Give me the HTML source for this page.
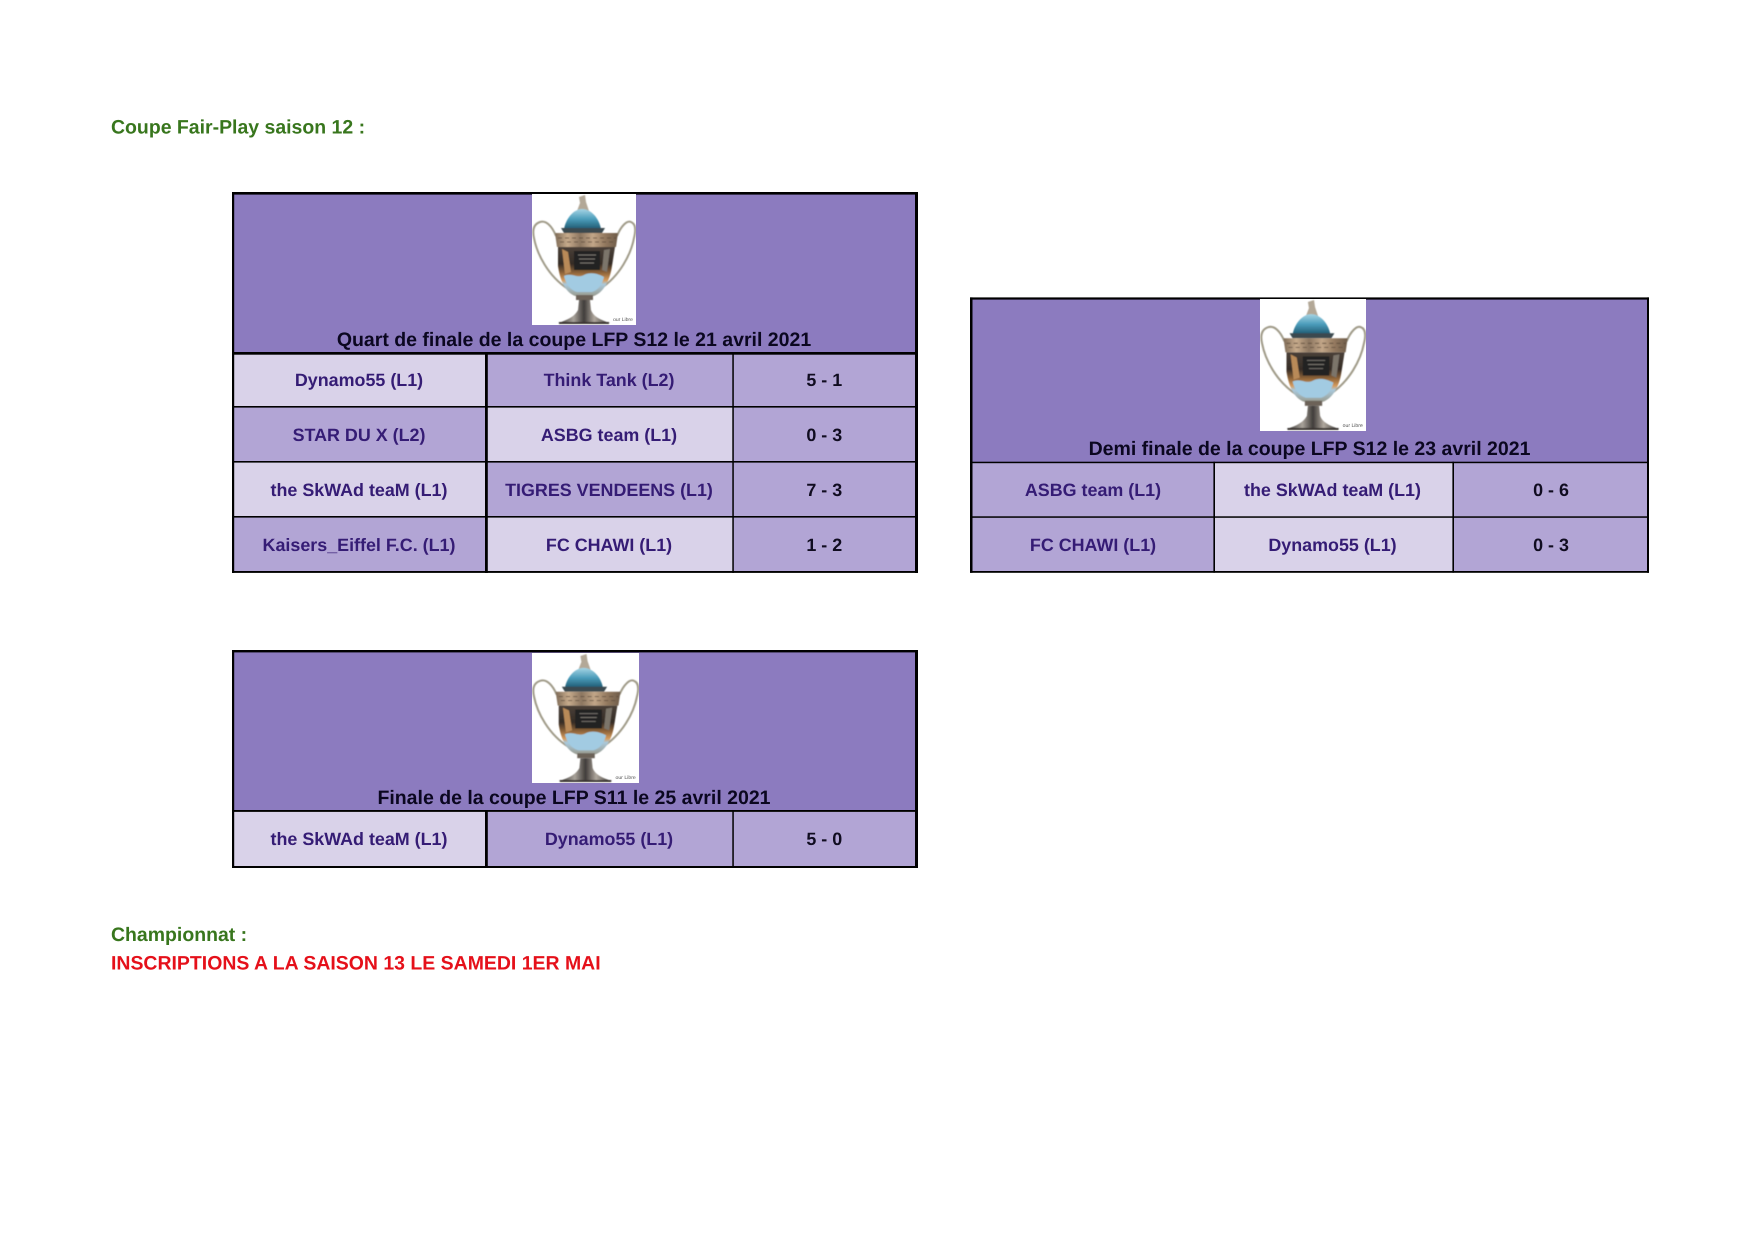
<!DOCTYPE html>
<html lang="fr">
<head>
<meta charset="utf-8">
<title>Coupe Fair-Play saison 12</title>
<style>
html,body{margin:0;padding:0;background:#fff;width:1754px;height:1240px;overflow:hidden}
svg{display:block}
text{font-family:"Liberation Sans",Arial,sans-serif;font-weight:700;text-rendering:geometricPrecision}
.h{font-size:19.5px;fill:#0b0720;text-anchor:middle}
.c{font-size:17.9px;fill:#351c75;text-anchor:middle}
.s{font-size:17.9px;fill:#100c20;text-anchor:middle}
.g{font-size:19.47px;fill:#38761d}
.r{font-size:19.47px;fill:#e5101a}
.hd{fill:#8c7bbf}.l{fill:#d9d2e9}.m{fill:#b2a5d5}.k{fill:#000}
</style>
</head>
<body>
<svg width="1754" height="1240" viewBox="0 0 1754 1240" xmlns="http://www.w3.org/2000/svg">
<defs>
<linearGradient id="bowl" x1="0" x2="0" y1="0" y2="1">
<stop offset="0" stop-color="#4a4038"/><stop offset=".34" stop-color="#352c26"/><stop offset=".52" stop-color="#8c6238"/><stop offset=".68" stop-color="#d69c5e"/><stop offset=".76" stop-color="#a9c9dc"/><stop offset="1" stop-color="#9a9c90"/>
</linearGradient>
<linearGradient id="lid" x1="0" x2="0" y1="0" y2="1">
<stop offset="0" stop-color="#a6d4e4"/><stop offset=".5" stop-color="#4c9dbb"/><stop offset="1" stop-color="#1f5a72"/>
</linearGradient>
<linearGradient id="band" x1="0" x2="1" y1="0" y2="0">
<stop offset="0" stop-color="#7d6a56"/><stop offset=".2" stop-color="#c7ab8c"/><stop offset=".4" stop-color="#8c7660"/><stop offset=".6" stop-color="#c2a688"/><stop offset=".8" stop-color="#92785e"/><stop offset="1" stop-color="#6e5c4a"/>
</linearGradient>
<linearGradient id="foot" x1="0" x2="1" y1="0" y2="0">
<stop offset="0" stop-color="#33312f"/><stop offset=".3" stop-color="#a8a29a"/><stop offset=".5" stop-color="#403c3a"/><stop offset=".7" stop-color="#b0a89e"/><stop offset="1" stop-color="#33312f"/>
</linearGradient>
<filter id="soft" x="-5%" y="-5%" width="110%" height="110%"><feGaussianBlur stdDeviation=".6"/></filter>
<symbol id="cup" viewBox="0 0 104 131" preserveAspectRatio="none">
<rect width="104" height="131" fill="#fff"/>
<g filter="url(#soft)">
<path d="M24 42C20 32 14 26 8 28C2 30 0 35 2 44C5 60 16 82 36 95" fill="none" stroke="#a09b89" stroke-width="2"/>
<path d="M85 42C89 32 95 26 99 28C104 30 104 36 102 44C99 60 88 82 68 95" fill="none" stroke="#a09b89" stroke-width="2"/>
<path d="M47 3L53 1L54 8L57 17L45 17L48 9Z" fill="#b3a897"/>
<path d="M32 35C34 24 42 15 50 15C59 15 67 24 69 35Z" fill="url(#lid)"/>
<path d="M29 34H73L70 39H32Z" fill="#3a4a50"/>
<path d="M23 39H86L84 53H25Z" fill="url(#band)"/>
<path d="M26 44H84M28 48H82" stroke="#5c4a3a" stroke-width=".8" stroke-dasharray="4 3"/>
<path d="M26 53H83L80 72C78 86 72 98 62 102H43C33 98 28 86 26 72Z" fill="url(#bowl)"/>
<rect x="42" y="57" width="26" height="19" fill="#242120"/>
<path d="M46 61H64M47 65H63M48 69H62" stroke="#77736d" stroke-width=".9"/>
<path d="M30 55L36 58L39 78L33 80Z" fill="#b98a58"/>
<path d="M72 56L78 55L75 78L70 76Z" fill="#7c746b"/>
<path d="M32 82C40 78 45 85 52 81C60 77 68 81 72 83C70 91 66 96 60 98H45C38 96 34 90 32 82Z" fill="#a2cbe2"/>
<rect x="44" y="101" width="17" height="5" fill="#6c6258"/>
<path d="M47 106H58L59 116C61 122 68 126 78 129H26C36 126 43 122 46 116Z" fill="url(#foot)"/>
<rect x="27" y="128" width="50" height="2" fill="#3a3432"/>
</g>
<text x="91" y="127" style="font-size:5px;font-weight:400;fill:#555;text-anchor:middle">our Libre</text>
</symbol>
</defs>

<rect width="1754" height="1240" fill="#fff"/>

<text class="g" x="111" y="133.5">Coupe Fair-Play saison 12 :</text>

<!-- Quart de finale -->
<rect class="hd" x="233" y="193" width="684" height="160"/>
<rect class="l" x="233" y="354" width="253" height="53"/><rect class="m" x="486" y="354" width="247" height="53"/><rect class="m" x="733" y="354" width="183" height="53"/>
<rect class="m" x="233" y="407" width="253" height="55"/><rect class="l" x="486" y="407" width="247" height="55"/><rect class="m" x="733" y="407" width="183" height="55"/>
<rect class="l" x="233" y="462" width="253" height="55"/><rect class="m" x="486" y="462" width="247" height="55"/><rect class="m" x="733" y="462" width="183" height="55"/>
<rect class="m" x="233" y="517" width="253" height="55"/><rect class="l" x="486" y="517" width="247" height="55"/><rect class="m" x="733" y="517" width="183" height="55"/>
<rect class="k" x="232" y="192" width="686" height="2.6"/>
<rect class="k" x="232" y="352" width="686" height="2.7"/>
<rect class="k" x="232" y="406" width="686" height="1.6"/>
<rect class="k" x="232" y="461" width="686" height="1.6"/>
<rect class="k" x="232" y="516" width="686" height="1.6"/>
<rect class="k" x="232" y="571" width="686" height="1.9"/>
<rect class="k" x="232" y="192" width="2.2" height="381"/>
<rect class="k" x="915" y="192" width="3" height="381"/>
<rect class="k" x="485" y="352" width="2.8" height="221"/>
<rect class="k" x="732.3" y="352" width="1.5" height="221"/>
<use href="#cup" x="532" y="194" width="104" height="131"/>
<text class="h" x="574" y="345.8">Quart de finale de la coupe LFP S12 le 21 avril 2021</text>
<text class="c" x="359" y="386">Dynamo55 (L1)</text><text class="c" x="609" y="386">Think Tank (L2)</text><text class="s" x="824.3" y="386">5 - 1</text>
<text class="c" x="359" y="441">STAR DU X (L2)</text><text class="c" x="609" y="441">ASBG team (L1)</text><text class="s" x="824.3" y="441">0 - 3</text>
<text class="c" x="359" y="496">the SkWAd teaM (L1)</text><text class="c" x="609" y="496">TIGRES VENDEENS (L1)</text><text class="s" x="824.3" y="496">7 - 3</text>
<text class="c" x="359" y="551">Kaisers_Eiffel F.C. (L1)</text><text class="c" x="609" y="551">FC CHAWI (L1)</text><text class="s" x="824.3" y="551">1 - 2</text>

<!-- Demi finale -->
<rect class="hd" x="971" y="298" width="677" height="164"/>
<rect class="m" x="971" y="463" width="243" height="54"/><rect class="l" x="1214" y="463" width="239" height="54"/><rect class="m" x="1453" y="463" width="195" height="54"/>
<rect class="m" x="971" y="517" width="243" height="55"/><rect class="l" x="1214" y="517" width="239" height="55"/><rect class="m" x="1453" y="517" width="195" height="55"/>
<rect class="k" x="970" y="297.4" width="679" height="2.2"/>
<rect class="k" x="970" y="461.7" width="679" height="1.5"/>
<rect class="k" x="970" y="516.3" width="679" height="1.5"/>
<rect class="k" x="970" y="571" width="679" height="1.8"/>
<rect class="k" x="970" y="297.4" width="2.5" height="275.4"/>
<rect class="k" x="1647" y="297.4" width="2" height="275.4"/>
<rect class="k" x="1213.4" y="461.7" width="1.6" height="111"/>
<rect class="k" x="1452.4" y="461.7" width="1.6" height="111"/>
<use href="#cup" x="1260" y="299" width="106" height="132"/>
<text class="h" x="1309.5" y="455">Demi finale de la coupe LFP S12 le 23 avril 2021</text>
<text class="c" x="1093" y="496">ASBG team (L1)</text><text class="c" x="1332.5" y="496">the SkWAd teaM (L1)</text><text class="s" x="1551" y="496">0 - 6</text>
<text class="c" x="1093" y="551">FC CHAWI (L1)</text><text class="c" x="1332.5" y="551">Dynamo55 (L1)</text><text class="s" x="1551" y="551">0 - 3</text>

<!-- Finale -->
<rect class="hd" x="233" y="651" width="684" height="160"/>
<rect class="l" x="233" y="812" width="253" height="55"/><rect class="m" x="486" y="812" width="247" height="55"/><rect class="m" x="733" y="812" width="183" height="55"/>
<rect class="k" x="232" y="650" width="686" height="2.4"/>
<rect class="k" x="232" y="810" width="686" height="1.9"/>
<rect class="k" x="232" y="866" width="686" height="2"/>
<rect class="k" x="232" y="650" width="2.2" height="218"/>
<rect class="k" x="915" y="650" width="3" height="218"/>
<rect class="k" x="485" y="810" width="2.8" height="58"/>
<rect class="k" x="732.3" y="810" width="1.5" height="58"/>
<use href="#cup" x="532" y="653" width="107" height="130"/>
<text class="h" x="574" y="804">Finale de la coupe LFP S11 le 25 avril 2021</text>
<text class="c" x="359" y="845">the SkWAd teaM (L1)</text><text class="c" x="609" y="845">Dynamo55 (L1)</text><text class="s" x="824.3" y="845">5 - 0</text>

<text class="g" x="111" y="941">Championnat :</text>
<text class="r" x="111" y="969.5">INSCRIPTIONS A LA SAISON 13 LE SAMEDI 1ER MAI</text>
</svg>
</body>
</html>
